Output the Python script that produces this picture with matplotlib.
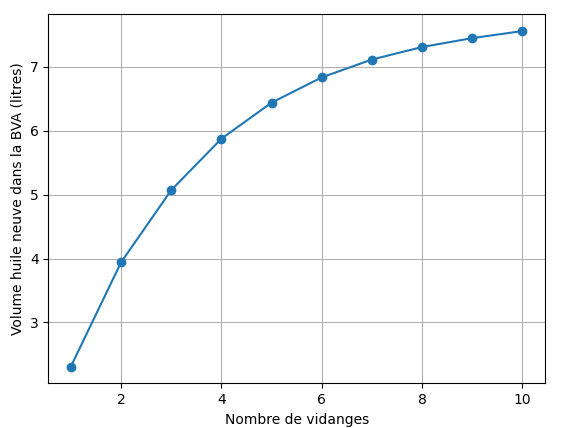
import matplotlib
matplotlib.use("Agg")
import matplotlib.pyplot as plt

# nombre de vidanges / volume d'huile neuve
vidanges = [1, 2, 3, 4, 5, 6, 7, 8, 9, 10]
volume = [2.31, 3.94, 5.07, 5.875, 6.44, 6.835, 7.115, 7.31, 7.45, 7.56]

fig = plt.figure(figsize=(5.64, 4.28), dpi=100)
ax = fig.add_subplot(111)
fig.subplots_adjust(left=48.3/564, right=545/564, top=1-14.3/428, bottom=1-383.3/428)

ax.plot(vidanges, volume, marker="o")
ax.set_xlabel("Nombre de vidanges")
ax.set_ylabel("Volume huile neuve dans la BVA (litres)")
ax.grid(True)

fig.savefig("out.png", dpi=100)
